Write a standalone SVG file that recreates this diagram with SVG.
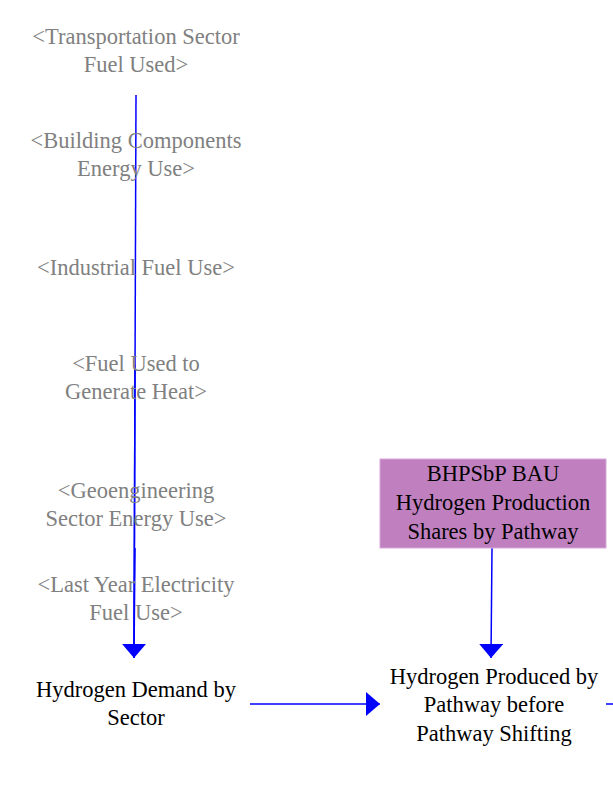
<svg xmlns="http://www.w3.org/2000/svg" width="613" height="787" viewBox="0 0 613 787">
<defs>
<style>
text{font-family:"Liberation Serif","Times New Roman",serif;font-size:22.5px;text-anchor:middle}
.sh{fill:#808080}
.n{fill:#000}
.c{stroke:#0000ff;stroke-width:1.5;fill:none}
</style>
<marker id="ahb" viewBox="0 0 12 10" refX="12" refY="5" markerWidth="14" markerHeight="24" markerUnits="userSpaceOnUse" orient="auto" preserveAspectRatio="none"><path d="M0,0 L12,5 L0,10 z" fill="#0000ff"/></marker>
</defs>
<g id="connectors">
<path class="c" d="M136,95 L134,658" marker-end="url(#ahb)"/>
<path class="c" d="M135,365 L134,658" stroke-width="2.5"/>
<path class="c" d="M135,548 L134,658" stroke-width="2.5"/>
<path class="c" d="M492,548 L491,658" marker-end="url(#ahb)"/>
<path class="c" d="M250,704 L380,704" marker-end="url(#ahb)"/>
<path class="c" d="M606,704 L613,704"/>
</g>
<g id="transport"><text class="sh" x="136" y="44">&lt;Transportation Sector</text><text class="sh" x="136" y="72">Fuel Used&gt;</text></g>
<g id="building"><text class="sh" x="136" y="148">&lt;Building Components</text><text class="sh" x="136" y="176">Energy Use&gt;</text></g>
<g id="industrial"><text class="sh" x="136" y="275">&lt;Industrial Fuel Use&gt;</text></g>
<g id="heat"><text class="sh" x="136" y="371">&lt;Fuel Used to</text><text class="sh" x="136" y="399">Generate Heat&gt;</text></g>
<g id="geo"><text class="sh" x="136" y="498">&lt;Geoengineering</text><text class="sh" x="136" y="526">Sector Energy Use&gt;</text></g>
<g id="lastyear"><text class="sh" x="136" y="592">&lt;Last Year Electricity</text><text class="sh" x="136" y="620">Fuel Use&gt;</text></g>
<g id="demand"><text class="n" x="136" y="697">Hydrogen Demand by</text><text class="n" x="136" y="725">Sector</text></g>
<g id="bau"><rect x="380" y="459" width="226" height="89" fill="#c080c0" stroke="#d8a8d8" stroke-width="1"/><text class="n" x="493" y="481">BHPSbP BAU</text><text class="n" x="493" y="510">Hydrogen Production</text><text class="n" x="493" y="539">Shares by Pathway</text></g>
<g id="produced"><text class="n" x="494" y="684">Hydrogen Produced by</text><text class="n" x="494" y="712">Pathway before</text><text class="n" x="494" y="741">Pathway Shifting</text></g>
</svg>
